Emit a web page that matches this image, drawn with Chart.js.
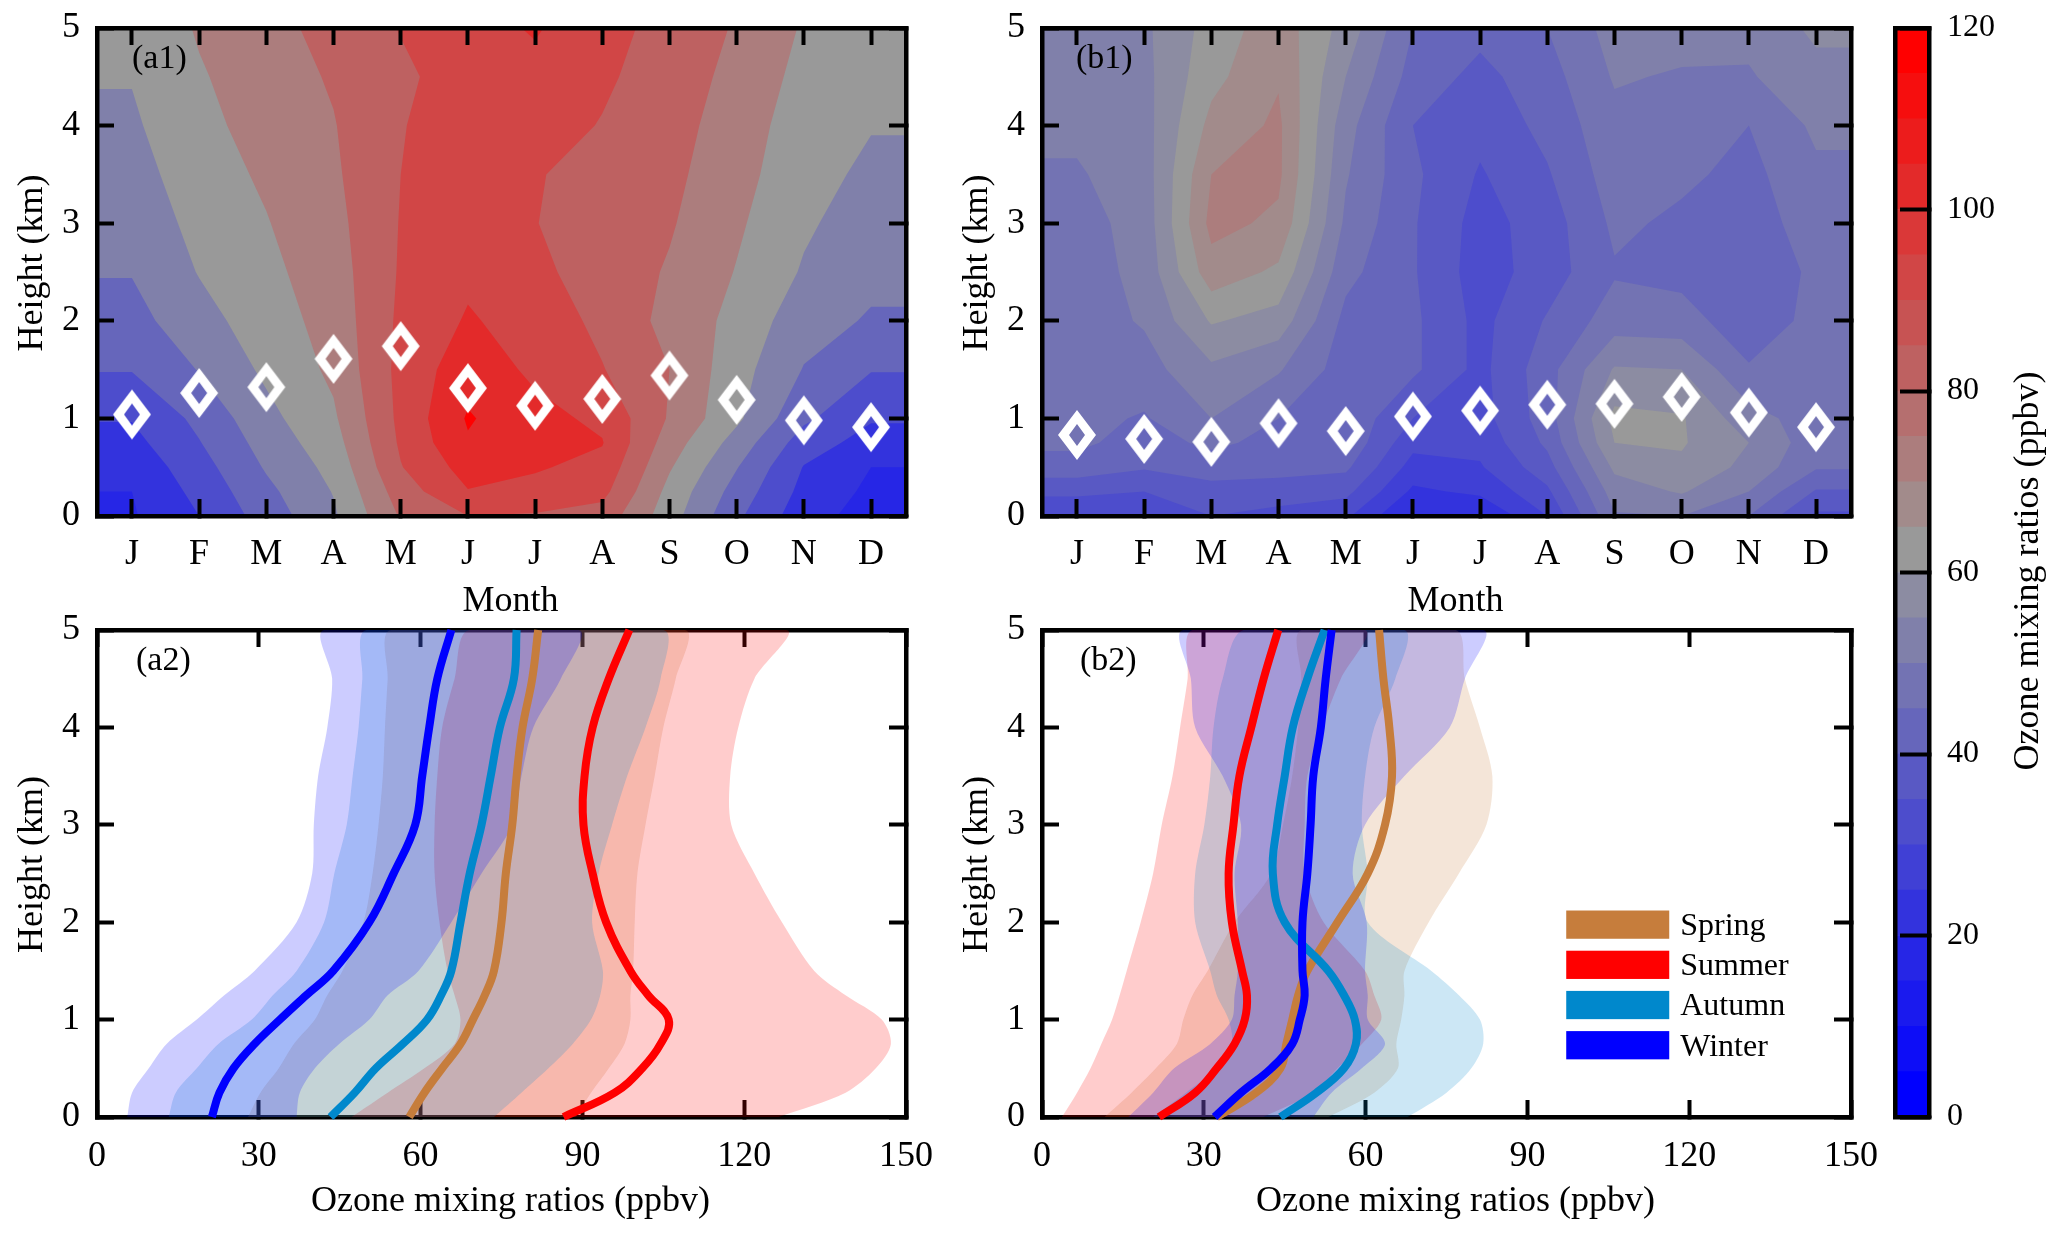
<!DOCTYPE html>
<html>
<head>
<meta charset="utf-8">
<title>Ozone mixing ratios</title>
<script src="https://cdn.jsdelivr.net/npm/chart.js@4/dist/chart.umd.min.js"></script>
<style>
  html, body { margin: 0; padding: 0; background: #fff; }
  body { width: 2067px; height: 1237px; position: relative; overflow: hidden; }
  canvas { position: absolute; }
</style>
</head>
<body>
<canvas id="a1" style="left:0;top:0" width="940" height="630"></canvas>
<canvas id="b1" style="left:950px;top:0" width="960" height="630"></canvas>
<canvas id="a2" style="left:0;top:590px" width="950" height="647"></canvas>
<canvas id="b2" style="left:950px;top:590px" width="960" height="647"></canvas>
<canvas id="bar" style="left:1870px;top:0" width="197" height="1237"></canvas>
<script>
const months = ['J', 'F', 'M', 'A', 'M', 'J', 'J', 'A', 'S', 'O', 'N', 'D'];

// contour panels: one column per month, one value per height in fieldHeights
const fieldHeights = [0, 0.25, 0.5, 0.75, 1, 1.5, 2, 2.5, 3, 3.5, 4, 4.5, 5];
const a1Ozone = [
    [19, 20, 23, 27, 30.5, 40.5, 46.5, 50.5, 53.5, 56, 58.5, 60.5, 62],
    [30, 33, 36, 39.5, 42.5, 50.5, 56.5, 60.5, 63, 65.5, 67.5, 69, 71],
    [44.5, 47.5, 51, 54, 57, 62, 65, 67.5, 69.5, 71.5, 73.5, 75.5, 77],
    [58.5, 60.5, 63, 66, 68.5, 72, 74, 75.5, 77, 78.5, 79.5, 81, 83],
    [81, 85, 89.5, 91.5, 92.5, 93, 92, 91, 90.5, 90, 89.5, 88, 90.5],
    [90, 99.5, 104, 109, 111, 106, 101, 98, 96, 95, 95, 95, 96],
    [89, 97, 101, 104, 103, 98, 96, 92, 90.2, 90.5, 94, 97, 101],
    [86, 93, 97, 100.5, 98, 90.5, 87.5, 86, 86.5, 87.5, 89.5, 91.5, 93],
    [64.4, 67, 71, 75, 79, 80, 77, 79, 81, 82.5, 84, 85.5, 87],
    [42, 46, 50.5, 56, 62, 64, 67, 69.5, 71.5, 73.5, 75, 77, 79],
    [24, 27, 29.5, 35, 42, 49.5, 54, 59, 61.5, 63.5, 65, 67, 69],
    [16, 18, 20, 26, 31, 40.5, 49, 52.5, 55, 58, 60.5, 61.5, 62.5]
];
const b1Ozone = [
    [31, 36, 43, 46, 46.5, 47, 47.5, 47.5, 48, 49.5, 51, 52, 52.5],
    [31, 35, 40.5, 43, 44.5, 48, 50.5, 51.5, 52, 52.5, 53, 53.5, 54],
    [35, 38, 42.5, 46, 50, 54, 60.5, 68, 71.5, 70, 66.5, 63.5, 62],
    [33, 38, 41.5, 43.5, 45, 50.5, 58, 64, 69, 71, 71, 69.5, 68],
    [31, 36.5, 41, 44, 44, 42.5, 43.5, 46.5, 49, 50.5, 52, 55, 58],
    [19, 24, 28, 31.5, 35, 41, 41, 40.5, 40.5, 41, 40, 43, 45],
    [20, 26, 29.5, 31.5, 33, 33.5, 33.5, 32.5, 33, 34.5, 36.5, 38.5, 41.5],
    [30, 34, 38, 41, 42.5, 43, 40.5, 37.5, 37.5, 39.5, 41.5, 43, 45],
    [49.5, 52.5, 56, 60, 61.5, 55.5, 47.5, 44.5, 46, 47.5, 48.5, 50.5, 52],
    [50, 55.5, 59, 60.5, 60.5, 55, 47, 43.5, 44, 46, 47.5, 49.5, 52],
    [45, 50, 53.5, 55, 52, 45.5, 42, 41.5, 42.5, 43.5, 45, 49.5, 51.5],
    [34, 39.5, 45.5, 47, 47.5, 47, 46.5, 46, 47.5, 49, 51, 53.5, 56]
];
const a1Levels = [10, 20, 30, 40, 50, 60, 70, 80, 90, 100, 110];
const b1Levels = [15, 20, 25, 30, 35, 40, 45, 50, 55, 60, 65, 70];
const a1BoundaryHeight = [1.04, 1.26, 1.32, 1.61, 1.74, 1.31, 1.13, 1.2, 1.44, 1.19, 0.98, 0.91];
const b1BoundaryHeight = [0.83, 0.79, 0.76, 0.95, 0.87, 1.02, 1.08, 1.14, 1.15, 1.22, 1.06, 0.91];

// profile panels: ozone at each profileHeights entry
const profileHeights = [0, 0.25, 0.5, 0.75, 1, 1.25, 1.5, 2, 2.5, 3, 3.5, 4, 4.5, 5];
const a2Spring = [57.9, 60.7, 64, 67.4, 69.7, 71.9, 73.6, 75, 75.8, 77, 77.8, 78.9, 80.7, 81.8];
const a2SpringLow = [28, 30.3, 33.7, 36.5, 40.4, 42.7, 45.5, 49.4, 51.1, 52.2, 53, 53.4, 53.9, 54.5];
const a2SpringHigh = [88.8, 91.6, 94.9, 97.8, 98.9, 98.9, 99.4, 99.7, 100.2, 101.7, 103.4, 105, 107.3, 109];
const a2Summer = [86.5, 96, 101.1, 104.5, 106, 102.2, 98.9, 94.4, 91.9, 90.2, 90.4, 91.9, 94.9, 98.7];
const a2SummerLow = [47.2, 53.9, 60.7, 66.3, 67.4, 66.3, 65, 63.5, 62.6, 62.6, 63.1, 64, 66.3, 69.1];
const a2SummerHigh = [126.4, 138.8, 144.4, 147.2, 145.5, 138.8, 133, 127, 121.9, 117.6, 117.4, 118.9, 121.9, 127.8];
const a2Autumn = [43.3, 47.8, 51.7, 56.7, 61.2, 63.8, 65.7, 67.4, 69.1, 71.3, 73, 74.7, 77.3, 77.8];
const a2AutumnLow = [13.3, 14.6, 18.5, 22.5, 28.7, 32.6, 37, 42.1, 44, 46.3, 47.4, 48.5, 49.2, 50];
const a2AutumnHigh = [73.6, 78.7, 83.7, 88.2, 91.6, 93.3, 93.8, 91.8, 93, 95.5, 98.3, 101.7, 104.5, 105];
const a2Winter = [21.3, 22.7, 25.3, 29.2, 33.9, 38.8, 43.8, 50.5, 55, 59, 60.3, 61.6, 63.1, 65.7];
const a2WinterLow = [5.6, 6.5, 9.6, 12.9, 18.5, 23.6, 29.2, 37, 39.9, 40.2, 41, 42.7, 43.6, 42.1];
const a2WinterHigh = [37, 37.6, 40.4, 44.9, 50.5, 53.9, 59.6, 65.7, 71.3, 77, 78.7, 80.9, 86, 89.3];

const b2Spring = [32.4, 39.7, 44.2, 45.3, 46.4, 47.5, 49.2, 54.8, 60.4, 63.6, 64.9, 64.4, 63.3, 62.5];
const b2SpringLow = [11.6, 16.6, 21.1, 25, 26.2, 27.9, 30.7, 35.7, 42.5, 44.7, 46.4, 47.5, 48.1, 48.1];
const b2SpringHigh = [53.1, 61.6, 66, 65.7, 66.6, 67.2, 67.2, 71.7, 77.3, 82.4, 83.5, 81.2, 78.4, 76.7];
const b2Summer = [21.7, 28.4, 32.4, 35.7, 37.6, 38, 37.1, 35.2, 34.6, 35.5, 36.6, 38.8, 41.1, 43.8];
const b2SummerLow = [3.7, 6.5, 9, 11, 13, 14.4, 15.7, 18.3, 20.6, 22.2, 24.2, 25.6, 27, 27.9];
const b2SummerHigh = [41, 50.3, 54.8, 59.3, 62.9, 61.6, 59.9, 52.2, 48.7, 48.7, 49.2, 51.9, 55.4, 59.9];
const b2Autumn = [44.2, 50.9, 56, 58.2, 58, 56, 53.1, 45, 42.8, 43.6, 45, 46.5, 49.2, 52.4];
const b2AutumnLow = [20.6, 26.7, 32.4, 35.2, 34.6, 32.4, 31.2, 28.4, 28.4, 30.1, 31.2, 31.8, 33.5, 37.4];
const b2AutumnHigh = [67.8, 75, 79.6, 81.8, 81.2, 77.3, 72.2, 60.4, 60.4, 59.3, 59.9, 61.6, 65.5, 67.2];
const b2Winter = [32, 36.9, 42.5, 46.4, 47.8, 48.7, 48.3, 48.3, 49.2, 49.8, 50.3, 51.7, 52.6, 53.7];
const b2WinterLow = [16, 20.6, 24.5, 31.2, 35.2, 35.7, 36.3, 36.3, 35.7, 36.9, 33.5, 28.4, 27.6, 26.2];
const b2WinterHigh = [50.3, 53.7, 59.3, 63.6, 60.4, 60.4, 59.9, 60.2, 57.6, 59.9, 67.2, 75.6, 78.4, 81.8];

const seasons = ['Spring', 'Summer', 'Autumn', 'Winter'];
const seasonRgb = ['198, 125, 60', '255, 0, 0', '0, 136, 204', '0, 0, 255'];

// colour bar: 24 bands of 5 ppbv
const barBands = new Array(24).fill(5);
const serif = '"Liberation Serif", "Times New Roman", serif';
const black = '#000';

function bandColour(i) {
    let r, g, b;
    if (i < 12) {
        const t = i / 12;
        r = g = 153 * t;
        b = 255 - 102 * t;
    } else {
        const t = (i - 12) / 11;
        r = 153 + 102 * t;
        g = b = 153 * (1 - t);
    }
    return `rgb(${Math.round(r)}, ${Math.round(g)}, ${Math.round(b)})`;
}

// value >= level part of one grid cell
function clipCell(corners, level) {
    const out = [];
    for (let i = 0; i < corners.length; i++) {
        const p = corners[i];
        const q = corners[(i + 1) % corners.length];
        if (p.v >= level) out.push(p);
        if ((p.v >= level) !== (q.v >= level)) {
            const t = (level - p.v) / (q.v - p.v);
            out.push({ x: p.x + (q.x - p.x) * t, y: p.y + (q.y - p.y) * t, v: level });
        }
    }
    return out;
}

function contourPlugin(field, levels, levelColour) {
    return {
        id: 'contour',
        beforeDraw(chart) {
            const { ctx, chartArea, scales } = chart;
            const xs = [scales.x.min, ...months.map((m, i) => i + 1), scales.x.max];
            const columns = [field[0], ...field, field[11]];
            ctx.save();
            ctx.beginPath();
            ctx.rect(chartArea.left, chartArea.top, chartArea.width, chartArea.height);
            ctx.clip();
            ctx.fillStyle = levelColour(0);
            ctx.fillRect(chartArea.left, chartArea.top, chartArea.width, chartArea.height);
            for (const level of levels) {
                const path = new Path2D();
                for (let c = 0; c < xs.length - 1; c++) {
                    for (let r = 0; r < fieldHeights.length - 1; r++) {
                        const poly = clipCell([
                            { x: xs[c], y: fieldHeights[r], v: columns[c][r] },
                            { x: xs[c + 1], y: fieldHeights[r], v: columns[c + 1][r] },
                            { x: xs[c + 1], y: fieldHeights[r + 1], v: columns[c + 1][r + 1] },
                            { x: xs[c], y: fieldHeights[r + 1], v: columns[c][r + 1] }
                        ], level);
                        poly.forEach((p, i) => {
                            const px = scales.x.getPixelForValue(p.x);
                            const py = scales.y.getPixelForValue(p.y);
                            if (i === 0) path.moveTo(px, py); else path.lineTo(px, py);
                        });
                        if (poly.length) path.closePath();
                    }
                }
                ctx.fillStyle = levelColour(level);
                ctx.fill(path);
            }
            ctx.restore();
        }
    };
}

function notesPlugin(notes) {
    return {
        id: 'notes',
        afterDraw(chart) {
            const { ctx } = chart;
            notes.forEach(n => {
                ctx.save();
                ctx.translate(n.x, n.y);
                if (n.rotate) ctx.rotate(n.rotate);
                ctx.font = `${n.size}px ${serif}`;
                ctx.fillStyle = black;
                ctx.textAlign = n.align || 'left';
                ctx.textBaseline = 'middle';
                ctx.fillText(n.text, 0, 0);
                ctx.restore();
            });
        }
    };
}

// white hollow diamond used for the boundary layer height
function diamondMarker() {
    const c = document.createElement('canvas');
    c.width = 40;
    c.height = 52;
    const g = c.getContext('2d');
    g.fillStyle = '#fff';
    g.beginPath();
    g.moveTo(20, 1); g.lineTo(39, 26); g.lineTo(20, 51); g.lineTo(1, 26); g.closePath();
    g.moveTo(20, 15); g.lineTo(28, 26); g.lineTo(20, 37); g.lineTo(12, 26); g.closePath();
    g.fill('evenodd');
    return c;
}

// fixed axis box, and no extra room for labels that stick out past the plot
function fixBox(s, box) {
    Object.assign(s, box);
    s.paddingTop = s.paddingBottom = s.paddingLeft = s.paddingRight = 0;
}

function frameAxis(position, min, max, step, tickLen) {
    return {
        position,
        min,
        max,
        ticks: { display: false, stepSize: step },
        grid: { drawOnChartArea: false, tickLength: -tickLen, tickWidth: 4, tickColor: black },
        border: { display: true, color: black, width: 4.5 },
        afterFit: s => fixBox(s, position === 'top' ? { height: 0 } : { width: 0 })
    };
}

function yAxis(leftWidth, titleOffset) {
    return {
        position: 'left',
        min: 0,
        max: 5,
        ticks: { stepSize: 1, padding: 34, color: black, font: { family: serif, size: 36 } },
        grid: { drawOnChartArea: false, tickLength: -17, tickWidth: 4, tickColor: black },
        border: { display: true, color: black, width: 4.5 },
        title: { display: true, text: '  Height (km)', color: black, padding: { top: titleOffset, bottom: 0 },
            font: { family: serif, size: 36, lineHeight: 1 } },
        afterFit: s => fixBox(s, { width: leftWidth })
    };
}

const monthTicks = s => { s.ticks = months.map((m, i) => ({ value: i + 1 })); };

function fieldChart(id, field, levels, levelColour, boundary, leftWidth, rightPad, titleOffset, note) {
    const xMin = 0.48, xMax = 12.52;
    new Chart(document.getElementById(id), {
        type: 'scatter',
        data: {
            datasets: [{
                label: 'Boundary layer height',
                data: boundary.map((h, i) => ({ x: i + 1, y: h })),
                pointStyle: diamondMarker(),
                pointRadius: 20,
                clip: false
            }]
        },
        options: {
            responsive: false,
            animation: false,
            devicePixelRatio: 1,
            layout: { padding: { top: 28, right: rightPad, bottom: 0, left: 0 } },
            plugins: { legend: { display: false }, tooltip: { enabled: false } },
            scales: {
                x: {
                    position: 'bottom',
                    min: xMin,
                    max: xMax,
                    afterBuildTicks: monthTicks,
                    ticks: { autoSkip: false, maxRotation: 0, padding: 34, color: black,
                        font: { family: serif, size: 36 },
                        callback: v => months[v - 1] },
                    grid: { drawOnChartArea: false, tickLength: -17, tickWidth: 4, tickColor: black },
                    border: { display: true, color: black, width: 4.5 },
                    title: { display: true, text: '  Month', color: black, padding: { top: 0, bottom: 10 },
                        font: { family: serif, size: 36, lineHeight: 1 } },
                    afterFit: s => fixBox(s, { height: 114 })
                },
                x2: Object.assign(frameAxis('top', xMin, xMax, 1, 17), { afterBuildTicks: monthTicks }),
                y: yAxis(leftWidth, titleOffset),
                y2: frameAxis('right', 0, 5, 1, 17)
            }
        },
        plugins: [contourPlugin(field, levels, levelColour), notesPlugin([note])]
    });
}

function profileChart(id, lines, lows, highs, leftWidth, rightPad, titleOffset, notes) {
    const points = values => values.map((v, i) => ({ x: v, y: profileHeights[i] }));
    const datasets = [];
    seasons.forEach((name, s) => {
        datasets.push({
            label: name,
            data: points(lines[s]),
            showLine: true,
            borderColor: `rgb(${seasonRgb[s]})`,
            borderWidth: 8,
            borderCapStyle: 'butt',
            tension: 0.4,
            pointRadius: 0,
            clip: 5,
            order: 3 - s
        });
        datasets.push({
            label: name + ' range',
            data: points(lows[s]).concat(points(highs[s]).reverse()),
            showLine: true,
            borderWidth: 0,
            borderColor: 'rgba(0, 0, 0, 0)',
            backgroundColor: `rgba(${seasonRgb[s]}, 0.2)`,
            fill: 'shape',
            tension: 0.3,
            pointRadius: 0,
            order: 10 + 3 - s
        });
    });
    new Chart(document.getElementById(id), {
        type: 'scatter',
        data: { datasets },
        options: {
            responsive: false,
            animation: false,
            devicePixelRatio: 1,
            layout: { padding: { top: 40, right: rightPad, bottom: 0, left: 0 } },
            plugins: { legend: { display: false }, tooltip: { enabled: false } },
            scales: {
                x: {
                    position: 'bottom',
                    min: 0,
                    max: 150,
                    ticks: { stepSize: 30, maxRotation: 0, padding: 35, color: black, font: { family: serif, size: 36 } },
                    grid: { drawOnChartArea: false, tickLength: -17, tickWidth: 4, tickColor: black },
                    border: { display: true, color: black, width: 4.5 },
                    title: { display: true, text: '  Ozone mixing ratios (ppbv)', color: black, padding: { top: 0, bottom: 17 },
                        font: { family: serif, size: 36, lineHeight: 1 } },
                    afterFit: s => fixBox(s, { height: 120 })
                },
                x2: frameAxis('top', 0, 150, 30, 17),
                y: yAxis(leftWidth, titleOffset),
                y2: frameAxis('right', 0, 5, 1, 17)
            }
        },
        plugins: [notesPlugin(notes), {
            id: 'seasonKey',
            afterDraw(chart) {
                if (id !== 'b2') return;
                const { ctx, scales } = chart;
                // swatches anchored on the data scales
                seasons.forEach((name, s) => {
                    const x0 = scales.x.getPixelForValue(97.2);
                    const x1 = scales.x.getPixelForValue(116.3);
                    const top = scales.y.getPixelForValue(2.12 - s * 0.4127);
                    const bottom = scales.y.getPixelForValue(1.83 - s * 0.4127);
                    ctx.fillStyle = `rgb(${seasonRgb[s]})`;
                    ctx.fillRect(x0, top, x1 - x0, bottom - top);
                    ctx.fillStyle = black;
                    ctx.font = `32px ${serif}`;
                    ctx.textBaseline = 'middle';
                    ctx.fillText(name, x1 + 11, (top + bottom) / 2 + 2);
                });
            }
        }]
    });
}

fieldChart('a1', a1Ozone, a1Levels, l => bandColour(l >= 110 ? 23 : l === 10 ? 3 : l / 5), a1BoundaryHeight, 97, 34, 15,
    { text: '(a1)', x: 132, y: 59, size: 34 });
fieldChart('b1', b1Ozone, b1Levels, l => bandColour(l === 15 ? 4 : l / 5), b1BoundaryHeight, 92, 59, 10,
    { text: '(b1)', x: 126, y: 59, size: 34 });

profileChart('a2', [a2Spring, a2Summer, a2Autumn, a2Winter],
    [a2SpringLow, a2SummerLow, a2AutumnLow, a2WinterLow],
    [a2SpringHigh, a2SummerHigh, a2AutumnHigh, a2WinterHigh], 97, 44, 15,
    [{ text: '(a2)', x: 136, y: 71, size: 34 }]);
profileChart('b2', [b2Spring, b2Summer, b2Autumn, b2Winter],
    [b2SpringLow, b2SummerLow, b2AutumnLow, b2WinterLow],
    [b2SpringHigh, b2SummerHigh, b2AutumnHigh, b2WinterHigh], 92, 59, 10,
    [{ text: '(b2)', x: 130, y: 71, size: 34 }]);

new Chart(document.getElementById('bar'), {
    type: 'bar',
    data: {
        labels: ['Ozone'],
        datasets: barBands.map((band, i) => ({
            label: `${i * 5}-${(i + 1) * 5} ppbv`,
            data: [band],
            backgroundColor: bandColour(i),
            barPercentage: 1,
            categoryPercentage: 1,
            borderWidth: 0
        }))
    },
    options: {
        responsive: false,
        animation: false,
        devicePixelRatio: 1,
        layout: { padding: { top: 28, right: 0, bottom: 0, left: 0 } },
        plugins: { legend: { display: false }, tooltip: { enabled: false } },
        scales: {
            x: {
                stacked: true,
                position: 'bottom',
                ticks: { display: false },
                grid: { drawOnChartArea: false, drawTicks: false, z: 1 },
                border: { display: true, color: black, width: 4.5, z: 1 },
                afterFit: s => fixBox(s, { height: 120 })
            },
            x2: {
                type: 'category',
                labels: ['Ozone'],
                position: 'top',
                ticks: { display: false },
                grid: { drawOnChartArea: false, drawTicks: false, z: 1 },
                border: { display: true, color: black, width: 4.5, z: 1 },
                afterFit: s => fixBox(s, { height: 0 })
            },
            y: {
                stacked: true,
                position: 'right',
                min: 0,
                max: 120,
                ticks: { stepSize: 20, padding: 47, color: black, font: { family: serif, size: 32 } },
                grid: { drawOnChartArea: false, tickLength: -29, tickWidth: 4, tickColor: black, z: 1 },
                border: { display: true, color: black, width: 4.5, z: 1 },
                afterFit: s => fixBox(s, { width: 138 })
            },
            y2: {
                position: 'left',
                min: 0,
                max: 120,
                ticks: { display: false },
                grid: { drawOnChartArea: false, drawTicks: false, z: 1 },
                border: { display: true, color: black, width: 4.5, z: 1 },
                afterFit: s => fixBox(s, { width: 25 })
            }
        }
    },
    plugins: [notesPlugin([{ text: 'Ozone mixing ratios (ppbv)', x: 159, y: 571, size: 36, align: 'center', rotate: -Math.PI / 2 }])]
});
</script>
</body>
</html>
